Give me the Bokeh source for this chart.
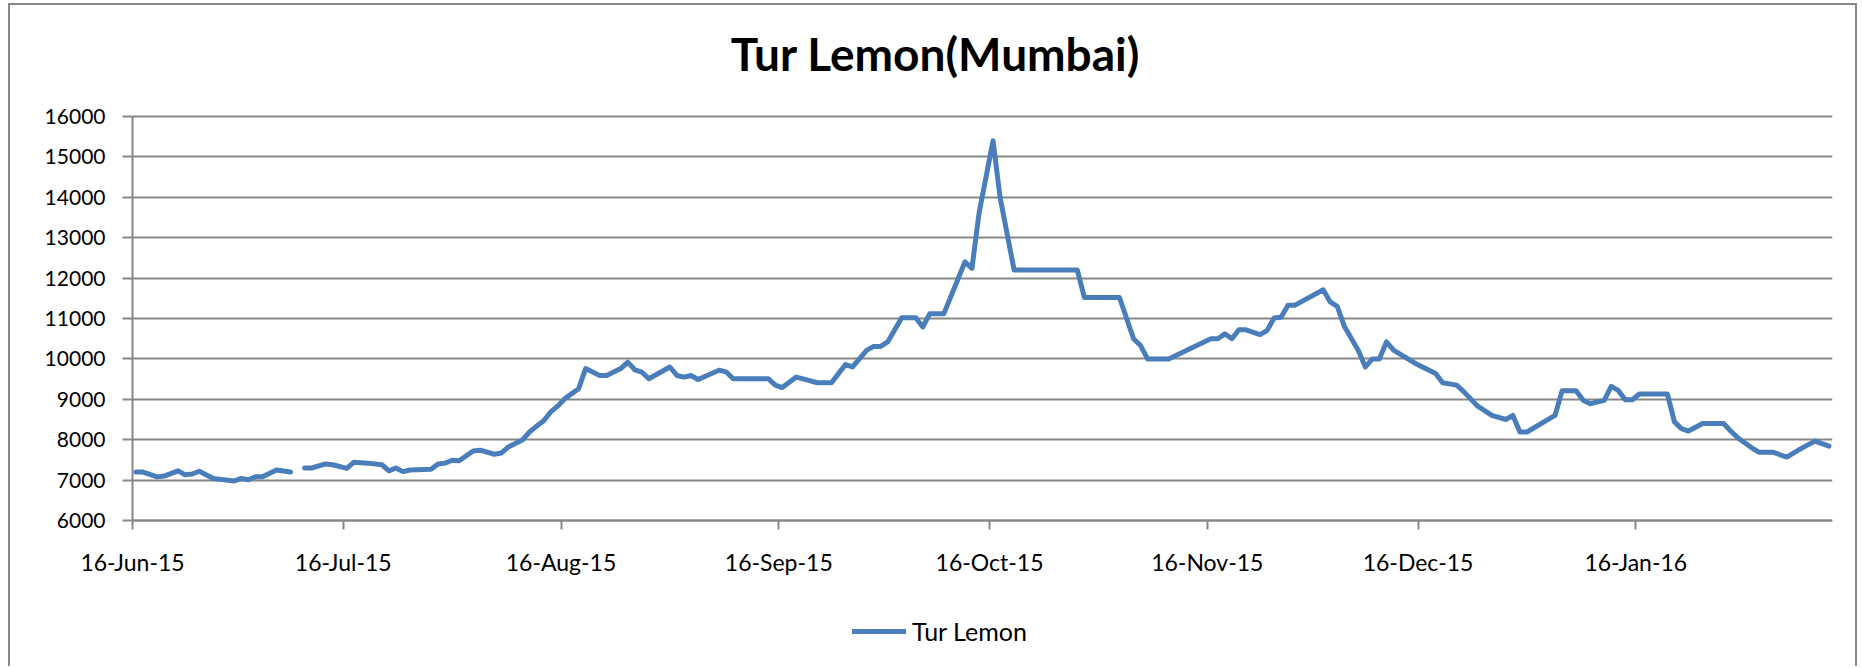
import pandas as pd
from bokeh.plotting import figure
from bokeh.models import Range1d, FixedTicker, Legend, LegendItem, ColumnDataSource, Label
from bokeh.embed import file_html
from bokeh.resources import INLINE

# ---------------- data ----------------
dates = [
    "2015-06-16", "2015-06-17", "2015-06-19", "2015-06-20", "2015-06-22", "2015-06-23",
    "2015-06-24", "2015-06-25", "2015-06-27", "2015-06-30", "2015-07-01", "2015-07-02",
    "2015-07-03", "2015-07-04", "2015-07-06", "2015-07-08", "2015-07-09", "2015-07-10",
    "2015-07-11", "2015-07-13", "2015-07-14", "2015-07-16", "2015-07-17", "2015-07-19",
    "2015-07-21", "2015-07-22", "2015-07-23", "2015-07-24", "2015-07-25", "2015-07-28",
    "2015-07-29", "2015-07-30", "2015-07-31", "2015-08-01", "2015-08-03", "2015-08-04",
    "2015-08-06", "2015-08-07", "2015-08-08", "2015-08-10", "2015-08-11", "2015-08-12",
    "2015-08-13", "2015-08-14", "2015-08-15", "2015-08-16", "2015-08-18", "2015-08-19",
    "2015-08-20", "2015-08-21", "2015-08-22", "2015-08-24", "2015-08-25", "2015-08-26",
    "2015-08-27", "2015-08-28", "2015-08-31", "2015-09-01", "2015-09-02", "2015-09-03",
    "2015-09-04", "2015-09-07", "2015-09-08", "2015-09-09", "2015-09-14", "2015-09-15",
    "2015-09-16", "2015-09-18", "2015-09-21", "2015-09-23", "2015-09-24", "2015-09-25",
    "2015-09-26", "2015-09-28", "2015-09-29", "2015-09-30", "2015-10-01", "2015-10-03",
    "2015-10-05", "2015-10-06", "2015-10-07", "2015-10-09", "2015-10-12", "2015-10-13",
    "2015-10-14", "2015-10-16", "2015-10-17", "2015-10-19", "2015-10-28", "2015-10-29",
    "2015-11-03", "2015-11-05", "2015-11-06", "2015-11-07", "2015-11-10", "2015-11-16",
    "2015-11-17", "2015-11-18", "2015-11-19", "2015-11-20", "2015-11-21", "2015-11-23",
    "2015-11-24", "2015-11-25", "2015-11-26", "2015-11-27", "2015-11-28", "2015-12-02",
    "2015-12-03", "2015-12-04", "2015-12-05", "2015-12-07", "2015-12-08", "2015-12-09",
    "2015-12-10", "2015-12-11", "2015-12-12", "2015-12-15", "2015-12-18", "2015-12-19",
    "2015-12-21", "2015-12-22", "2015-12-24", "2015-12-26", "2015-12-28", "2015-12-29",
    "2015-12-30", "2015-12-31", "2016-01-04", "2016-01-05", "2016-01-07", "2016-01-08",
    "2016-01-09", "2016-01-11", "2016-01-12", "2016-01-13", "2016-01-14", "2016-01-15",
    "2016-01-16", "2016-01-20", "2016-01-21", "2016-01-22", "2016-01-23", "2016-01-25",
    "2016-01-28", "2016-01-29", "2016-01-30", "2016-02-01", "2016-02-02", "2016-02-04",
    "2016-02-06", "2016-02-08", "2016-02-10", "2016-02-12",
]
NA = float("nan")
prices = [
    7200, 7200, 7080, 7100, 7230, 7130,
    7150, 7220, 7040, 6980, 7040, 7010,
    7080, 7080, 7250, 7200, NA, 7300,
    7300, 7400, 7380, 7290, 7440, 7420,
    7380, 7230, 7300, 7210, 7250, 7270,
    7400, 7420, 7490, 7480, 7720, 7740,
    7640, 7670, 7820, 7990, 8190, 8330,
    8460, 8680, 8830, 9010, 9260, 9760,
    9675, 9590, 9590, 9760, 9920, 9730,
    9675, 9510, 9800, 9590, 9550, 9590,
    9490, 9720, 9680, 9510, 9510, 9350,
    9290, 9550, 9410, 9410, 9635, 9860,
    9800, 10210, 10310, 10310, 10420, 11020,
    11020, 10790, 11120, 11120, 12400, 12240,
    13600, 15400, 14000, 12200, 12200, 11520,
    11520, 10500, 10330, 10000, 10000, 10500,
    10500, 10620, 10500, 10720, 10720, 10600,
    10700, 11010, 11030, 11330, 11330, 11710,
    11410, 11300, 10810, 10210, 9800, 10000,
    10000, 10420, 10220, 9900, 9640, 9410,
    9350, 9190, 8830, 8600, 8500, 8600,
    8190, 8190, 8600, 9210, 9210, 8975,
    8890, 8975, 9320, 9220, 8990, 8990,
    9130, 9130, 8440, 8275, 8215, 8400,
    8400, 8215, 8050, 7800, 7690, 7690,
    7570, 7780, 7965, 7840,
]
tick_dates = ["2015-06-16", "2015-07-16", "2015-08-16", "2015-09-16",
              "2015-10-16", "2015-11-16", "2015-12-16", "2016-01-16"]
tick_labels = ["16-Jun-15", "16-Jul-15", "16-Aug-15", "16-Sep-15",
               "16-Oct-15", "16-Nov-15", "16-Dec-15", "16-Jan-16"]
y_ticks = [6000, 7000, 8000, 9000, 10000, 11000, 12000, 13000, 14000, 15000, 16000]
axis_start_date = "2015-06-16"
axis_end_date = "2016-02-13"
title_text = "Tur Lemon(Mumbai)"
series_name = "Tur Lemon"

# ---------------- style / layout (page pixels) ----------------
FONT = "Lato"
GRID = "#878787"
LINE = "#4A7EBB"
CANVAS_X, CANVAS_Y = 10, 5          # canvas origin on the page (margin + border)
W, H = 1849, 663
PLOT_L, PLOT_R = 132, 1832          # x extent of the plot area
PLOT_T, PLOT_B = 116, 520           # y of the top / bottom value ticks
TITLE_CX, TITLE_BASE = 935, 53
LEG_X, LEG_CY = 852, 632

MR = CANVAS_X + W - PLOT_R
PLOT_W = PLOT_R - PLOT_L
ppu = (PLOT_B - PLOT_T) / (y_ticks[-1] - y_ticks[0])       # px per value unit
y_top = y_ticks[-1] + (PLOT_T - CANVAS_Y) / ppu
y_bot = y_ticks[0] - (CANVAS_Y + H - PLOT_B) / ppu


def ms(d):
    return int(pd.Timestamp(d).value // 10**6)


x0, x1 = ms(axis_start_date), ms(axis_end_date)
mspp = (x1 - x0) / PLOT_W                                  # ms per px
x_left = x0 - (PLOT_L - CANVAS_X) * mspp                   # frame reaches the canvas edge

# points sit in the middle of their day (Excel "between tick marks")
xs = [pd.Timestamp(d) + pd.Timedelta(hours=12) for d in dates]
src = ColumnDataSource(data=dict(x=xs, y=prices))

p = figure(width=W, height=H, x_axis_type="datetime",
           x_range=Range1d(start=x_left, end=x1), y_range=Range1d(start=y_bot, end=y_top),
           output_backend="svg", toolbar_location=None,
           min_border_left=0, min_border_right=MR, min_border_top=0, min_border_bottom=0)
p.styles = {"margin-left": "8px", "margin-top": "3px",
            "border-top": "2px solid #878787", "border-left": "2px solid #878787",
            "border-right": "2px solid #878787"}
p.outline_line_color = None
p.background_fill_color = "white"
p.border_fill_color = "white"

r = p.line("x", "y", source=src, line_color=LINE, line_width=5,
           line_join="round", line_cap="round")

# axes (both drawn inside the frame at the plot-area edges)
p.yaxis.ticker = FixedTicker(ticks=y_ticks)
p.yaxis.bounds = (y_ticks[0], y_ticks[-1])
p.yaxis.fixed_location = x0
tick_ms = [ms(d) for d in tick_dates]
p.xaxis.ticker = FixedTicker(ticks=tick_ms)
p.xaxis.major_label_overrides = {t: lab for t, lab in zip(tick_ms, tick_labels)}
p.xaxis.bounds = (x0, x1)
p.xaxis.fixed_location = y_ticks[0]

for ax in (p.xaxis[0], p.yaxis[0]):
    ax.axis_line_color = GRID
    ax.axis_line_width = 2
    ax.major_tick_line_color = GRID
    ax.major_tick_line_width = 2
    ax.major_tick_in = 0
    ax.minor_tick_line_color = None
    ax.major_label_text_font = FONT
    ax.major_label_text_color = "black"
p.xaxis.major_label_text_font_size = "23px"
p.yaxis.major_label_text_font_size = "21px"
p.yaxis.major_tick_out = 10
p.yaxis.major_label_standoff = 17
p.xaxis.major_tick_out = 9
p.xaxis.major_label_standoff = 18

p.xgrid.visible = False
p.ygrid.grid_line_color = GRID
p.ygrid.grid_line_width = 2
p.ygrid.cross_bounds = (x0, x1)

# title, centred over the whole chart box
title_x = x0 + (TITLE_CX - PLOT_L) * mspp
title_y = y_ticks[-1] + (PLOT_T - TITLE_BASE) / ppu
p.add_layout(Label(x=title_x, y=title_y, text=title_text, text_align="center",
                   text_baseline="alphabetic", text_font=FONT, text_font_size="46px",
                   text_font_style="bold", text_color="black"))

# legend under the axis labels
ROW = 28
legend = Legend(items=[LegendItem(label=series_name, renderers=[r])],
                location=(LEG_X - CANVAS_X, CANVAS_Y + H - LEG_CY - ROW / 2),
                orientation="horizontal", padding=0, margin=0, spacing=0,
                border_line_color=None, background_fill_alpha=0,
                glyph_width=54, glyph_height=ROW, label_height=ROW, label_standoff=6,
                label_text_font=FONT, label_text_font_size="25px", label_text_color="black")
p.add_layout(legend)

open("out.html", "w").write(file_html(p, INLINE))
